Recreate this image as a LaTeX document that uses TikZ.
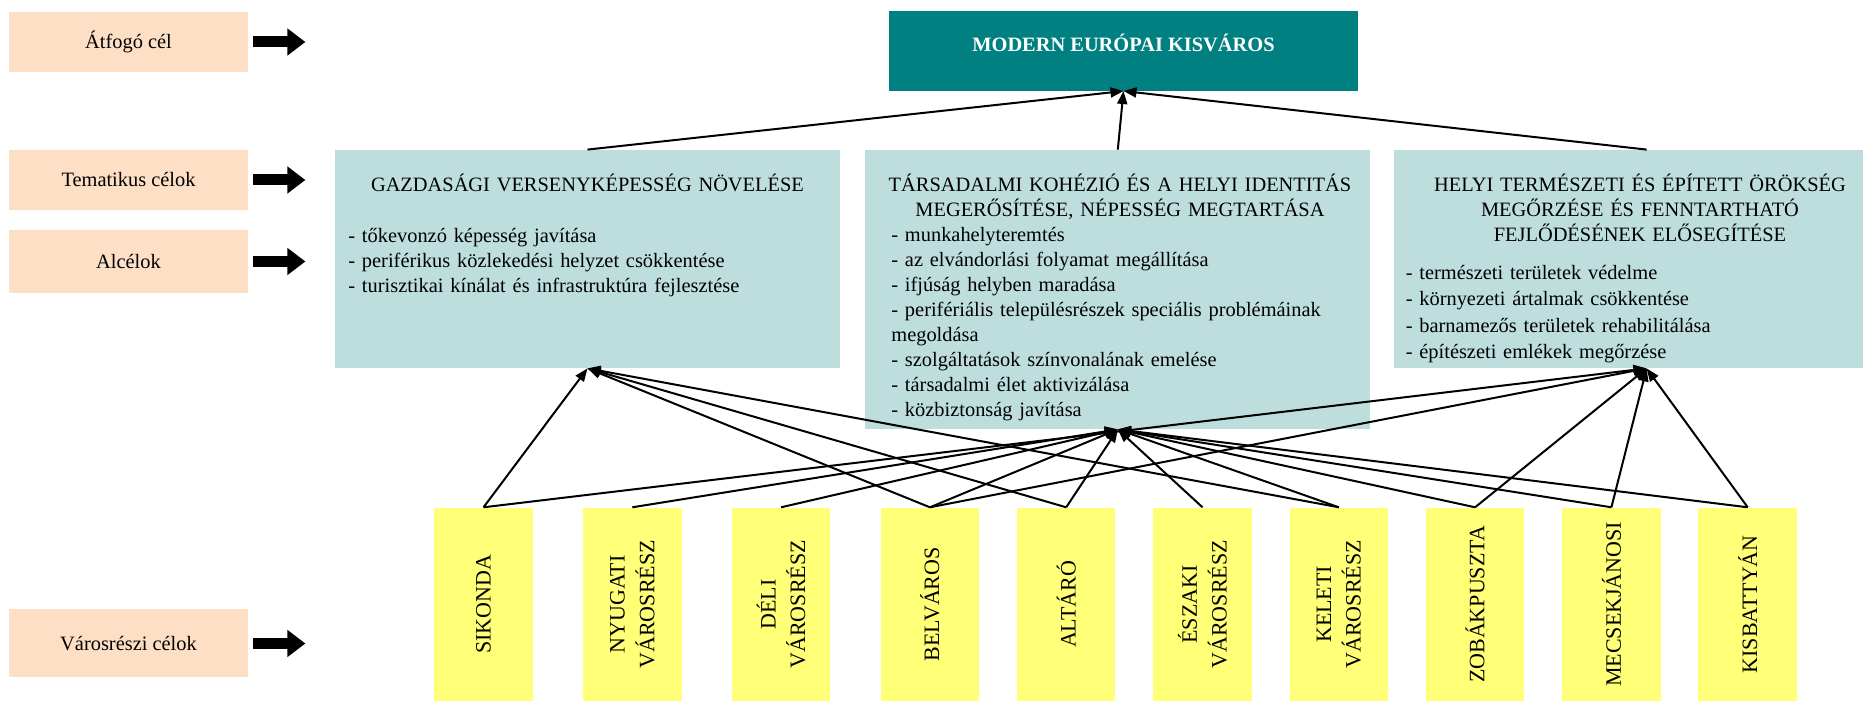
\documentclass[tikz,border=0pt]{standalone}
\usepackage{fontspec}
\setmainfont{Liberation Serif}
\usetikzlibrary{arrows.meta, positioning}
\hyphenpenalty=10000 % no hyphenation inside the justified lists
\definecolor{peach}{RGB}{253,223,197}
\definecolor{tealbox}{RGB}{0,128,128}
\definecolor{paleteal}{RGB}{190,222,222}
\definecolor{lemon}{RGB}{255,255,120}
\tikzset{
>={Triangle[length=6.5pt,width=5pt]}, % filled heads on the connectors
levelbox/.style={fill=peach, minimum width=119.5pt, minimum height=30pt, inner sep=0pt, font=\fontsize{10.2}{12.5}\selectfont},
levelarrow/.style={line width=5.5pt, -{Triangle[length=9pt,width=13pt]}, shorten <=2.5pt}, % fat arrows of the left column
goalbox/.style={fill=tealbox, text=white, minimum width=234.5pt, minimum height=39.85pt, text height=5pt, text depth=4.1pt, font=\bfseries\fontsize{10.2}{12}\selectfont},
themebox/.style={fill=paleteal, minimum width=252.6pt, inner sep=0pt},
themehead/.style={anchor=base, text width=245pt, align=center, inner sep=0pt, font=\fontsize{10.2}{12.5}\selectfont},
themelist/.style={anchor=base west, text width=240pt, inner sep=0pt, font=\fontsize{10.2}{12.5}\selectfont},
districtbox/.style={fill=lemon, minimum width=49.25pt, minimum height=96.65pt, inner sep=0pt},
districttext/.style={rotate=90, align=center, inner sep=0pt, font=\fontsize{11}{14.85}\selectfont},
link/.style={->, line width=1pt},
}
\begin{document}
\begin{tikzpicture}[x=1pt, y=1pt]
  \path[use as bounding box] (0,0) rectangle (931.5,350.5);
  \clip (0,0) rectangle (931.5,350.5); % the right theme box runs off the page

  % left column
  \node[levelbox] (atfogo) at (64.25,329.5) {Átfogó cél};
  \node[levelbox] (tematikus) at (64.25,260.5) {Tematikus célok};
  \node[levelbox, minimum height=31.5pt] (alcelok) at (64.25,219.75) {Alcélok};
  \node[levelbox, minimum height=34pt] (varosreszi) at (64.25,28.75) {Városrészi célok};
  \coordinate[right=28.5pt of atfogo] (atfogotip);
  \coordinate[right=28.5pt of tematikus] (tematikustip);
  \coordinate[right=28.5pt of alcelok] (alceloktip);
  \coordinate[right=28.5pt of varosreszi] (varosreszitip);
  \draw[levelarrow] (atfogo) -- (atfogotip);
  \draw[levelarrow] (tematikus) -- (tematikustip);
  \draw[levelarrow] (alcelok) -- (alceloktip);
  \draw[levelarrow] (varosreszi) -- (varosreszitip);

  % overall goal
  \node[goalbox] (modern) at (561.75,325.1) {MODERN EURÓPAI KISVÁROS};

  % thematic goals
  \node[themebox, minimum height=109pt] (gazd) at (293.75,221) {};
  \node[themebox, minimum height=139.5pt] (tars) at (558.9,205.75) {};
  \node[themebox, minimum height=109pt] (helyi) at (823.3,221) {};
  \node[themehead] (gazdhead) at (293.75,254.7) {GAZDASÁGI VERSENYKÉPESSÉG NÖVELÉSE};
  \node[themelist] (gazdlist) at (174,229.4) {- tőkevonzó képesség javítása\\
    - periférikus közlekedési helyzet csökkentése\\
    - turisztikai kínálat és infrastruktúra fejlesztése};
  \node[themehead] (tarshead) at (560,254.7) {TÁRSADALMI KOHÉZIÓ ÉS A HELYI IDENTITÁS\\MEGERŐSÍTÉSE, NÉPESSÉG MEGTARTÁSA};
  \node[themelist, text width=233.5pt] (tarslist) at (445.5,229.7) {- munkahelyteremtés\\
    - az elvándorlási folyamat megállítása\\
    - ifjúság helyben maradása\\
    - perifériális településrészek speciális problémáinak megoldása\\
    - szolgáltatások színvonalának emelése\\
    - társadalmi élet aktivizálása\\
    - közbiztonság javítása};
  \node[themehead] (helyihead) at (820,254.7) {HELYI TERMÉSZETI ÉS ÉPÍTETT ÖRÖKSÉG\\MEGŐRZÉSE ÉS FENNTARTHATÓ\\FEJLŐDÉSÉNEK ELŐSEGÍTÉSE};
  \node[themelist, font=\fontsize{10.2}{13.25}\selectfont] (helyilist) at (702.7,210.75) {- természeti területek védelme\\
    - környezeti ártalmak csökkentése\\
    - barnamezős területek rehabilitálása\\
    - építészeti emlékek megőrzése};

  % district goals
  \node[districtbox] (sikonda) at (241.75,48.325) {};
  \node[districtbox, right=24.75pt of sikonda] (nyugati) {};
  \node[districtbox, right=24.75pt of nyugati] (deli) {};
  \node[districtbox, right=24.75pt of deli] (belvaros) {};
  \node[districtbox, right=18.5pt of belvaros] (altaro) {};
  \node[districtbox, right=18.5pt of altaro] (eszaki) {};
  \node[districtbox, right=18.5pt of eszaki] (keleti) {};
  \node[districtbox, right=18.5pt of keleti] (zobak) {};
  \node[districtbox, right=18.5pt of zobak] (mecsek) {};
  \node[districtbox, right=18.5pt of mecsek] (kisbattyan) {};
  \node[districttext] (sikondatext) at (sikonda) {SIKONDA};
  \node[districttext] (nyugatitext) at (nyugati) {NYUGATI\\VÁROSRÉSZ};
  \node[districttext] (delitext) at (deli) {DÉLI\\VÁROSRÉSZ};
  \node[districttext] (belvarostext) at (belvaros) {BELVÁROS};
  \node[districttext] (altarotext) at (altaro) {ALTÁRÓ};
  \node[districttext] (eszakitext) at (eszaki) {ÉSZAKI\\VÁROSRÉSZ};
  \node[districttext] (keletitext) at (keleti) {KELETI\\VÁROSRÉSZ};
  \node[districttext] (zobaktext) at (zobak) {ZOBÁKPUSZTA};
  \node[districttext] (mecsektext) at (mecsek) {MECSEKJÁNOSI};
  \node[districttext] (kisbattyantext) at (kisbattyan) {KISBATTYÁN};

  % thematic goals -> overall goal
  \draw[link] (gazd.north) -- (modern.south);
  \draw[link] (tars.north) -- (modern.south);
  \draw[link] (helyi.north) -- (modern.south);

  % districts -> thematic goals
  \draw[link] (sikonda.north) -- (gazd.south);
  \draw[link] (belvaros.north) -- (gazd.south);
  \draw[link] (altaro.north) -- (gazd.south);
  \draw[link] (keleti.north) -- (gazd.south);
  \draw[link] (nyugati.north) -- (tars.south);
  \draw[link] (deli.north) -- (tars.south);
  \draw[link] (belvaros.north) -- (tars.south);
  \draw[link] (altaro.north) -- (tars.south);
  \draw[link] (eszaki.north) -- (tars.south);
  \draw[link] (keleti.north) -- (tars.south);
  \draw[link] (zobak.north) -- (tars.south);
  \draw[link] (mecsek.north) -- (tars.south);
  \draw[link] (kisbattyan.north) -- (tars.south);
  \draw[link] (sikonda.north) -- (helyi.south);
  \draw[link] (belvaros.north) -- (helyi.south);
  \draw[link] (zobak.north) -- (helyi.south);
  \draw[link] (mecsek.north) -- (helyi.south);
  \draw[link] (kisbattyan.north) -- (helyi.south);
\end{tikzpicture}
\end{document}
